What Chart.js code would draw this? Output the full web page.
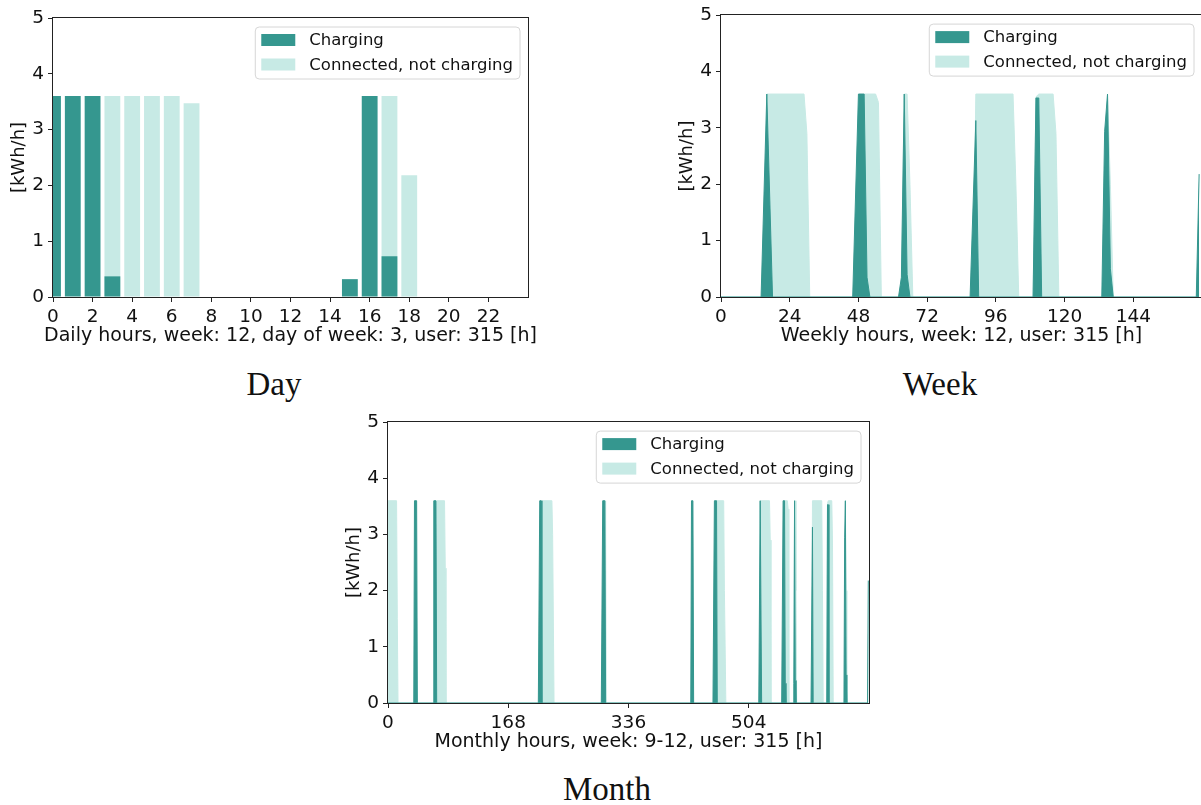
<!DOCTYPE html>
<html>
<head>
<meta charset="utf-8">
<script src="https://cdn.jsdelivr.net/npm/chart.js@4.4.0/dist/chart.umd.min.js"></script>
<style>
  html, body { margin: 0; padding: 0; background: #fff; width: 1201px; height: 805px; overflow: hidden; }
  body { position: relative; }
  canvas { position: absolute; }
  .cap { position: absolute; font-family: "Liberation Serif", serif; font-size: 33px; line-height: 1; color: #111; transform: translateX(-50%); white-space: nowrap; }
</style>
</head>
<body>
<canvas id="dayChart" width="560" height="348" style="left:0px;top:0px"></canvas>
<canvas id="weekChart" width="546" height="348" style="left:668px;top:0px"></canvas>
<canvas id="monthChart" width="546" height="347" style="left:335px;top:407px"></canvas>
<div class="cap" style="left:274px;top:368px">Day</div>
<div class="cap" style="left:940px;top:368px">Week</div>
<div class="cap" style="left:607px;top:773px">Month</div>
<script>
// series names and colours
const seriesLabels = ['Charging', 'Connected, not charging'];
const chargingColor = '#35978f';
const connectedColor = '#c7eae5';

// y axis (all three panels)
const yTicks = [0, 1, 2, 3, 4, 5];

// day: one bar per hour
const dayHours = [0, 1, 2, 3, 4, 5, 6, 7, 8, 9, 10, 11, 12, 13, 14, 15, 16, 17, 18, 19, 20, 21, 22, 23];
const dayCharging = [3.6, 3.6, 3.6, 0.37, 0, 0, 0, 0, 0, 0, 0, 0, 0, 0, 0, 0.32, 3.6, 0.73, 0, 0, 0, 0, 0, 0];
const dayConnected = [0, 0, 0, 3.6, 3.6, 3.6, 3.6, 3.47, 0, 0, 0, 0, 0, 0, 0, 0, 0, 3.6, 2.18, 0, 0, 0, 0, 0];
const dayTicks = [0, 2, 4, 6, 8, 10, 12, 14, 16, 18, 20, 22];

// week: corner points of the filled areas
const weekChargingHours = [0, 14, 16, 18, 46, 48, 50, 51, 52, 62, 63, 64, 65, 66, 87, 89, 90, 109, 110, 111, 112, 133, 134, 135, 136, 137, 166, 167];
const weekChargingValues = [0, 0, 3.6, 0, 0, 3.6, 3.6, 0.35, 0, 0, 0.35, 3.6, 0.4, 0, 0, 3.13, 0, 0, 3.53, 3.53, 0, 0, 2.94, 3.6, 0.5, 0, 0, 2.18];
const weekConnectedHours = [0, 15, 16, 29, 30, 31, 49, 50, 54, 55, 56, 63, 64, 65, 66, 67, 88, 89, 102, 103, 104, 109, 110, 111, 116, 117, 118, 134, 135, 136, 137, 167];
const weekConnectedValues = [0, 0, 3.6, 3.6, 2.9, 0, 0, 3.6, 3.6, 3.45, 0, 0, 3.6, 3.6, 2.0, 0, 0, 3.6, 3.6, 2.0, 0, 0, 3.55, 3.6, 3.6, 2.9, 0, 0, 3.6, 2.0, 0, 0];
const weekTicks = [0, 24, 48, 72, 96, 120, 144];

// month: corner points of the filled areas
const monthChargingHours = [0, 36, 37, 40, 41, 63, 64, 67, 68, 210, 212, 214, 215, 298, 300, 303, 304, 423, 424, 426, 427, 454, 456, 459, 460,
  518, 520, 522, 550, 552, 554, 555, 556, 566, 567, 568, 569, 570, 591, 593, 594, 613, 614, 615, 616, 637, 638, 639, 640, 641, 670, 671];
const monthChargingValues = [0, 0, 3.6, 3.6, 0, 0, 3.6, 3.6, 0, 0, 3.6, 3.6, 0, 0, 3.6, 3.6, 0, 0, 3.6, 3.6, 0, 0, 3.6, 3.6, 0,
  0, 3.6, 0, 0, 3.6, 3.6, 0.35, 0, 0, 0.35, 3.6, 0.4, 0, 0, 3.13, 0, 0, 3.53, 3.53, 0, 0, 2.94, 3.6, 0.5, 0, 0, 2.18];
const monthConnectedHours = [0, 12, 13, 14, 67, 68, 79, 80, 81, 214, 215, 229, 230, 232, 303, 304, 305, 458, 459, 469, 470, 472,
  519, 520, 533, 534, 535, 553, 554, 558, 559, 560, 567, 568, 569, 570, 571, 592, 593, 606, 607, 608, 613, 614, 615, 620, 621, 622, 638, 639, 640, 641, 671];
const monthConnectedValues = [3.6, 3.6, 1.5, 0, 0, 3.6, 3.6, 2.4, 0, 0, 3.6, 3.6, 3.0, 0, 0, 3.6, 0, 0, 3.6, 3.6, 2.0, 0,
  0, 3.6, 3.6, 2.9, 0, 0, 3.6, 3.6, 3.45, 0, 0, 3.6, 3.6, 2.0, 0, 0, 3.6, 3.6, 2.0, 0, 0, 3.55, 3.6, 3.6, 2.9, 0, 0, 3.6, 2.0, 0, 0];
const monthTicks = [0, 168, 336, 504];

Chart.defaults.font.family = '"DejaVu Sans", sans-serif';
Chart.defaults.color = '#111';

function pairs(xs, ys) {
    return xs.map((x, i) => ({ x: x, y: ys[i] }));
}

// box around the plot area, under the data
const frame = {
    id: 'frame',
    beforeDatasetsDraw(chart) {
        const { ctx, chartArea: a } = chart;
        ctx.save();
        ctx.strokeStyle = '#222';
        ctx.lineWidth = 1;
        ctx.strokeRect(Math.round(a.left) - 0.5, Math.round(a.top) - 0.5,
            Math.round(a.right) - Math.round(a.left) + 1, Math.round(a.bottom) - Math.round(a.top) + 1);
        ctx.restore();
    }
};

// x axis label, may be wider than the plot (chart.js would squeeze it)
const xTitle = {
    id: 'xTitle',
    afterDraw(chart, args, opts) {
        const { ctx, chartArea: a } = chart;
        ctx.save();
        ctx.font = '19px "DejaVu Sans"';
        ctx.fillStyle = '#111';
        ctx.textAlign = 'center';
        ctx.textBaseline = 'middle';
        ctx.fillText(opts.text, (a.left + a.right) / 2, chart.height - 12);
        ctx.restore();
    }
};

// matplotlib style legend in the upper right corner of the plot
const boxLegend = {
    id: 'boxLegend',
    afterDatasetsDraw(chart) {
        const { ctx, chartArea: a } = chart;
        const sets = chart.data.datasets;
        ctx.save();
        ctx.font = '16.5px "DejaVu Sans"';
        const textW = Math.max(...sets.map(d => ctx.measureText(d.label).width));
        const w = 6 + 34 + 14 + textW + 7;
        const h = 52;
        const x = a.right - 8 - w;
        const y = a.top + 9;
        const r = 4;
        ctx.beginPath();
        ctx.moveTo(x + r, y);
        ctx.arcTo(x + w, y, x + w, y + h, r);
        ctx.arcTo(x + w, y + h, x, y + h, r);
        ctx.arcTo(x, y + h, x, y, r);
        ctx.arcTo(x, y, x + w, y, r);
        ctx.closePath();
        ctx.fillStyle = 'rgba(255,255,255,0.8)';
        ctx.fill();
        ctx.strokeStyle = '#d6d6d6';
        ctx.lineWidth = 1;
        ctx.stroke();
        sets.forEach((d, i) => {
            const cy = y + 13 + i * 24.5;
            ctx.fillStyle = d.backgroundColor;
            ctx.fillRect(x + 6, cy - 6, 34, 12);
            ctx.fillStyle = '#111';
            ctx.textBaseline = 'middle';
            ctx.fillText(d.label, x + 6 + 34 + 14, cy + 1);
        });
        ctx.restore();
    }
};

function makeOptions(xMax, xTicks, xLabel, topPad, rightPad) {
    return {
        responsive: false,
        animation: false,
        events: [],
        devicePixelRatio: 1,
        layout: { padding: { left: 0, top: topPad, right: rightPad, bottom: 0 } },
        plugins: { legend: { display: false }, tooltip: { enabled: false }, xTitle: { text: xLabel } },
        scales: {
            x: {
                type: 'linear',
                min: 0,
                max: xMax,
                offset: false,
                afterBuildTicks: s => { s.ticks = xTicks.map(v => ({ value: v })); },
                afterFit: s => { s.height = 51; },
                grid: { drawOnChartArea: false, offset: false, tickLength: 5, color: '#222' },
                border: { display: false },
                ticks: { padding: 4, font: { size: 18.5 }, maxRotation: 0, autoSkip: false }
            },
            y: {
                min: 0,
                max: 5,
                afterBuildTicks: s => { s.ticks = yTicks.map(v => ({ value: v })); },
                afterFit: s => { s.width = 53; },
                grid: { drawOnChartArea: false, tickLength: 5, color: '#222' },
                border: { display: false },
                ticks: { padding: 4, font: { size: 18.5 } },
                title: { display: true, text: '[kWh/h]', font: { size: 18 }, padding: { top: 9, bottom: 0 } }
            }
        }
    };
}

function areaSet(label, color, xs, ys) {
    return {
        label: label,
        data: pairs(xs, ys),
        backgroundColor: color,
        borderColor: color,
        borderWidth: 1,
        fill: 'origin',
        tension: 0,
        pointRadius: 0,
        clip: 0
    };
}

new Chart(document.getElementById('dayChart'), {
    type: 'bar',
    data: {
        datasets: [{
            label: seriesLabels[0],
            data: pairs(dayHours, dayCharging),
            backgroundColor: chargingColor,
            barPercentage: 0.8,
            categoryPercentage: 1,
            grouped: false,
            clip: 0
        }, {
            label: seriesLabels[1],
            data: pairs(dayHours, dayConnected),
            backgroundColor: connectedColor,
            barPercentage: 0.8,
            categoryPercentage: 1,
            grouped: false,
            clip: 0
        }]
    },
    options: makeOptions(24, dayTicks, 'Daily hours, week: 12, day of week: 3, user: 315 [h]', 18, 32),
    plugins: [frame, boxLegend, xTitle]
});

new Chart(document.getElementById('weekChart'), {
    type: 'line',
    data: {
        datasets: [
            areaSet(seriesLabels[0], chargingColor, weekChargingHours, weekChargingValues),
            areaSet(seriesLabels[1], connectedColor, weekConnectedHours, weekConnectedValues)
        ]
    },
    options: makeOptions(168, weekTicks, 'Weekly hours, week: 12, user: 315 [h]', 13, 12),
    plugins: [frame, boxLegend, xTitle]
});

new Chart(document.getElementById('monthChart'), {
    type: 'line',
    data: {
        datasets: [
            areaSet(seriesLabels[0], chargingColor, monthChargingHours, monthChargingValues),
            areaSet(seriesLabels[1], connectedColor, monthConnectedHours, monthConnectedValues)
        ]
    },
    options: makeOptions(672, monthTicks, 'Monthly hours, week: 9-12, user: 315 [h]', 13, 12),
    plugins: [frame, boxLegend, xTitle]
});
</script>
</body>
</html>
